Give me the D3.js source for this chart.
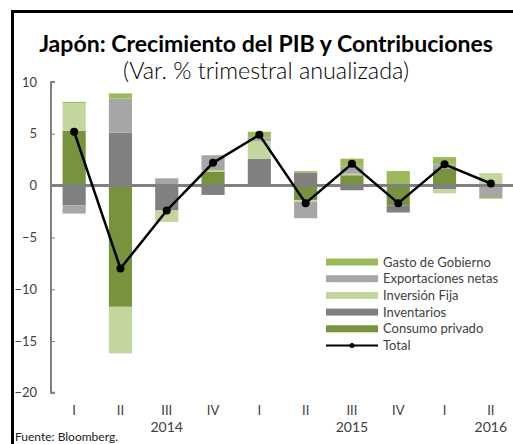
<!DOCTYPE html>
<html lang="es">
<head>
<meta charset="utf-8">
<title>Japón PIB</title>
<script src="https://d3js.org/d3.v7.min.js"></script>
<style>
  body { margin:0; background:#fff; }
  svg { display:block; font-family: Lato, "Open Sans", sans-serif; }
</style>
</head>
<body>
<div id="chart"></div>
<script>
// quarters and years
var quarters = ["I","II","III","IV","I","II","III","IV","I","II"]
var years = ["2014","2015","2016"]
var yearAt = [2, 6, 9]

// contributions (pp, annualized q/q)
var consumo       = [5.3, -11.7, 0.0, 1.35, 0.0, -1.4, 1.0, -1.9, 1.6, 0.2]
var inventarios   = [-1.9, 5.1, -2.4, -0.9, 2.6, 1.25, -0.45, -0.7, -0.35, 0.0]
var inversion     = [2.65, -4.5, -1.1, 0.15, 1.7, -0.15, 0.15, 0.0, -0.4, 1.0]
var exportaciones = [-0.8, 3.3, 0.7, 1.4, 0.35, -1.6, 0.7, 0.0, 0.45, -1.1]
var gasto         = [0.13, 0.5, 0.0, 0.05, 0.55, 0.15, 0.75, 1.4, 0.7, -0.15]
var total         = [5.2, -8.0, -2.4, 2.2, 4.9, -1.7, 2.1, -1.7, 2.05, 0.2]

var yTicks = [10, 5, 0, -5, -10, -15, -20]

var series = [
  {key:"consumo", name:"Consumo privado", color:"#77933c", values:consumo},
  {key:"inventarios", name:"Inventarios", color:"#808080", values:inventarios},
  {key:"inversion", name:"Inversión Fija", color:"#c3d69b", values:inversion},
  {key:"exportaciones", name:"Exportaciones netas", color:"#a6a6a6", values:exportaciones},
  {key:"gasto", name:"Gasto de Gobierno", color:"#9bbb59", values:gasto}
]

var W = 513, H = 444
var svg = d3.select("#chart").append("svg").attr("width", W).attr("height", H)

// frame
svg.append("rect").attr("x",12.5).attr("y",11.5).attr("width",W+20).attr("height",H+20)
  .attr("fill","none").attr("stroke","#000").attr("stroke-width",3)

// scale a text's font size so it spans the given width
function fitText(sel, width){
  var fs = +sel.attr("font-size")
  var len = sel.node().getComputedTextLength()
  if(len > 0) sel.attr("font-size", fs * width / len)
}

var title = svg.append("text").attr("x",266).attr("y",52).attr("text-anchor","middle")
  .attr("font-size",20).attr("font-weight","bold").attr("fill","#000")
  .text("Japón: Crecimiento del PIB y Contribuciones")
fitText(title, 454)
var sub = svg.append("text").attr("x",266).attr("y",79).attr("text-anchor","middle")
  .attr("font-size",18).attr("font-weight",300).attr("fill","#000")
  .text("(Var. % trimestral anualizada)")
fitText(sub, 286)

var x = d3.scaleBand().domain(d3.range(quarters.length)).range([51, 514])
  .paddingInner(0.5).paddingOuter(0.25)
var y = d3.scaleLinear().domain([-20, 10]).range([392.8, 82])

var rows = quarters.map(function(q, i){
  var r = {}
  series.forEach(function(s){ r[s.key] = s.values[i] })
  return r
})
var stack = d3.stack().keys(series.map(function(s){ return s.key }))
  .offset(d3.stackOffsetDiverging)(rows)

stack.forEach(function(layer, li){
  svg.append("g").selectAll("rect").data(layer).join("rect")
    .attr("x", function(d, i){ return x(i) })
    .attr("width", x.bandwidth())
    .attr("y", function(d){ return y(Math.max(d[0], d[1])) })
    .attr("height", function(d){ return Math.abs(y(d[0]) - y(d[1])) })
    .attr("fill", series[li].color)
})

// y axis
var yAxis = d3.axisLeft(y).tickValues(yTicks).tickSize(-4).tickPadding(14)
var gy = svg.append("g").attr("transform","translate(51,0)").call(yAxis)
gy.select(".domain").attr("stroke","#808080").attr("stroke-width",2)
  .attr("d", "M4," + y(10) + "H0V" + y(-20) + "H4")
gy.selectAll(".tick line").attr("stroke","#808080").attr("stroke-width",1)
gy.selectAll(".tick text").attr("font-size",13).attr("fill","#404040")
  .attr("font-family","Lato, sans-serif")

// zero line
svg.append("line").attr("x1",51).attr("x2",W).attr("y1",y(0)).attr("y2",y(0))
  .attr("stroke","#808080").attr("stroke-width",3)

// x labels
svg.append("g").selectAll("text").data(quarters).join("text")
  .attr("x", function(d, i){ return x(i) + x.bandwidth()/2 })
  .attr("y", 415).attr("text-anchor","middle")
  .attr("font-size",13).attr("fill","#404040").text(function(d){ return d })
svg.append("g").selectAll("text").data(years).join("text")
  .attr("x", function(d, i){ return x(yearAt[i]) + x.bandwidth()/2 })
  .attr("y", 432).attr("text-anchor","middle")
  .attr("font-size",14).attr("fill","#404040").text(function(d){ return d })

// total line
var line = d3.line().x(function(d, i){ return x(i) + x.bandwidth()/2 }).y(function(d){ return y(d) })
svg.append("path").datum(total).attr("d", line).attr("fill","none")
  .attr("stroke","#000").attr("stroke-width",2.5)
svg.append("g").selectAll("circle").data(total).join("circle")
  .attr("cx", function(d, i){ return x(i) + x.bandwidth()/2 })
  .attr("cy", function(d){ return y(d) }).attr("r",4).attr("fill","#000")

// legend
var legendItems = series.slice().reverse()
var lg = svg.append("g")
legendItems.forEach(function(s, i){
  var ly = 262 + i*16.7
  lg.append("rect").attr("x",326).attr("y",ly-3.5).attr("width",52).attr("height",7).attr("fill",s.color)
  lg.append("text").attr("x",383).attr("y",ly).attr("dy","0.35em")
    .attr("font-size",13).attr("fill","#404040").text(s.name)
})
var ty = 262 + 5*16.7
lg.append("line").attr("x1",326).attr("x2",378).attr("y1",ty).attr("y2",ty).attr("stroke","#000").attr("stroke-width",2)
lg.append("circle").attr("cx",352).attr("cy",ty).attr("r",2.5).attr("fill","#000")
lg.append("text").attr("x",383).attr("y",ty).attr("dy","0.35em")
  .attr("font-size",13).attr("fill","#404040").text("Total")

svg.append("text").attr("x",15).attr("y",441).attr("font-size",12).attr("fill","#222")
  .text("Fuente: Bloomberg.")
</script>
</body>
</html>
